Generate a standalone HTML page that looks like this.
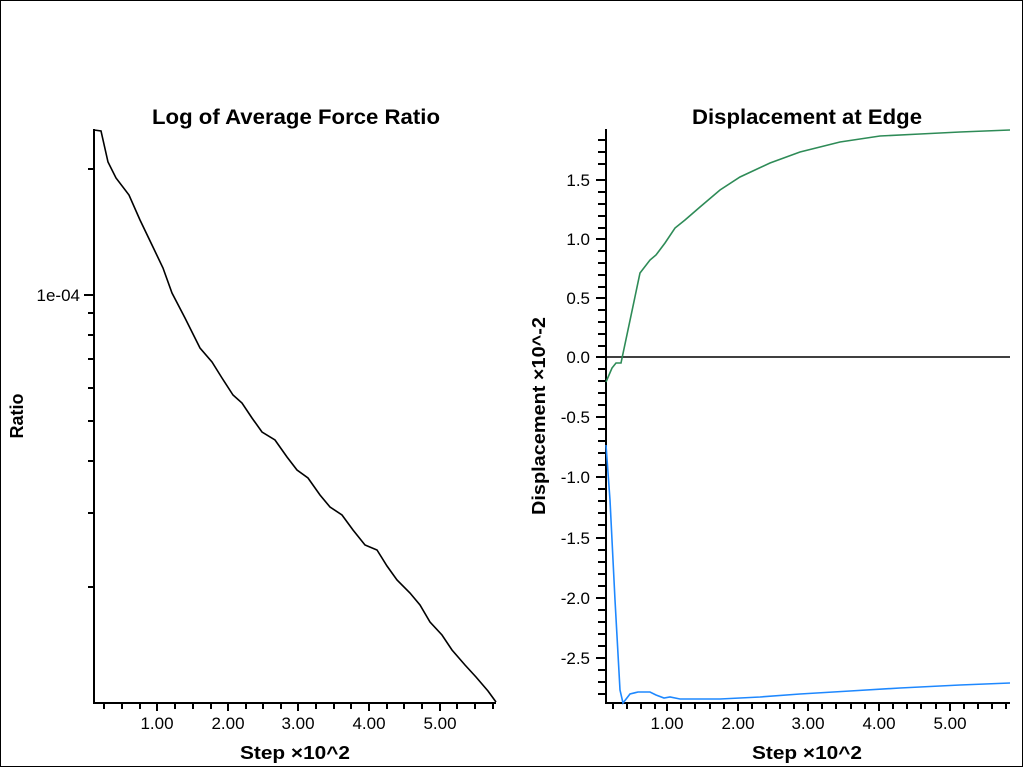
<!DOCTYPE html>
<html><head><style>body{margin:0;background:#fff}</style></head><body>
<svg width="1024" height="768" xmlns="http://www.w3.org/2000/svg" font-family="Liberation Sans, sans-serif">
<rect x="0.5" y="0.5" width="1022" height="766" fill="#fff" stroke="#000"/>
<g font-weight="bold" text-anchor="middle">
<text x="296" y="124" font-size="21" textLength="288" lengthAdjust="spacingAndGlyphs">Log of Average Force Ratio</text>
<text x="807" y="124" font-size="21" textLength="230" lengthAdjust="spacingAndGlyphs">Displacement at Edge</text>
<text x="295" y="759" font-size="18" textLength="110" lengthAdjust="spacingAndGlyphs">Step ×10^2</text>
<text x="807" y="759" font-size="18" textLength="110" lengthAdjust="spacingAndGlyphs">Step ×10^2</text>
<text transform="translate(23,416) rotate(-90)" font-size="18">Ratio</text>
<text transform="translate(545,416) rotate(-90)" font-size="18" textLength="198" lengthAdjust="spacingAndGlyphs">Displacement ×10^-2</text>
</g>
<g stroke="#000" stroke-width="2" fill="none">
<path d="M94,129V703H496"/>
<path d="M606,129V703H1010"/>
<path d="M88,169h6M84,295h10M88,313h6M88,335h6M88,359h6M88,388h6M88,421h6M88,461h6M88,513h6M88,587h6"/>
<path d="M104,703v6M122,703v6M140,703v6M157,703v8M175,703v6M193,703v6M211,703v6M228,703v8M246,703v6M263,703v6M281,703v6M298,703v8M316,703v6M334,703v6M351,703v6M369,703v8M387,703v6M404,703v6M422,703v6M440,703v8M457,703v6M475,703v6M493,703v6"/>
<path d="M613,703v6M627,703v6M641,703v6M655,703v6M667,703v8M681,703v6M695,703v6M710,703v6M724,703v6M738,703v8M752,703v6M766,703v6M780,703v6M794,703v6M808,703v8M822,703v6M836,703v6M851,703v6M865,703v6M879,703v8M893,703v6M907,703v6M921,703v6M936,703v6M950,703v8M964,703v6M978,703v6M992,703v6M1006,703v6"/>
<path d="M598,140h8M598,152h8M598,164h8M596,180h10M598,192h8M598,204h8M598,216h8M598,228h8M596,239h10M598,251h8M598,263h8M598,275h8M598,287h8M596,298h10M598,310h8M598,322h8M598,334h8M598,346h8M596,357h10M598,369h8M598,381h8M598,393h8M598,405h8M596,417h10M598,429h8M598,441h8M598,453h8M598,465h8M596,477h10M598,489h8M598,501h8M598,513h8M598,525h8M596,538h10M598,550h8M598,562h8M598,574h8M598,586h8M596,598h10M598,610h8M598,622h8M598,634h8M598,646h8M596,658h10M598,670h8M598,682h8M598,694h8"/>
</g>
<g font-size="17" text-anchor="end">
<text x="80" y="301">1e-04</text>
<text x="590" y="186">1.5</text><text x="590" y="245">1.0</text><text x="590" y="304">0.5</text><text x="590" y="363">0.0</text>
<text x="590" y="423">-0.5</text><text x="590" y="483">-1.0</text><text x="590" y="544">-1.5</text><text x="590" y="604">-2.0</text><text x="590" y="664">-2.5</text>
</g>
<g font-size="17" text-anchor="middle">
<text x="157" y="729">1.00</text><text x="228" y="729">2.00</text><text x="298" y="729">3.00</text><text x="369" y="729">4.00</text><text x="440" y="729">5.00</text>
<text x="667" y="729">1.00</text><text x="738" y="729">2.00</text><text x="808" y="729">3.00</text><text x="879" y="729">4.00</text><text x="950" y="729">5.00</text>
</g>
<path fill="none" stroke="#000" stroke-width="1.6" d="M94,130L101,131L108,162L116,178L129,195L140,220L152,245L163,268L172,293L185,318L200,348L212,362L222,378L233,395L242,403L252,418L262,432L275,440L287,457L297,470L308,478L320,495L330,507L342,515L353,530L365,545L377,550L387,566L397,580L410,593L420,605L430,622L442,635L452,650L465,665L476,677L488,691L496,702"/>
<path stroke="#000" stroke-width="1.6" d="M606,357H1010"/>
<path fill="none" stroke="#2e8b57" stroke-width="1.6" d="M606,382L612,368L616,363L621,363L640,273L650,260L656,255L665,243L675,228L685,220L700,207L720,190L740,177L770,163L800,152L840,142L880,136L920,134L960,132L1010,130"/>
<path fill="none" stroke="#1e88ff" stroke-width="1.6" d="M606,445L610,500L615,600L620,690L623,703L630,694L638,692L650,692L656,695L664,698L670,697L680,699L700,699L720,699L760,697L800,694L850,691L900,688L960,685L1010,683"/>
</svg>
</body></html>
